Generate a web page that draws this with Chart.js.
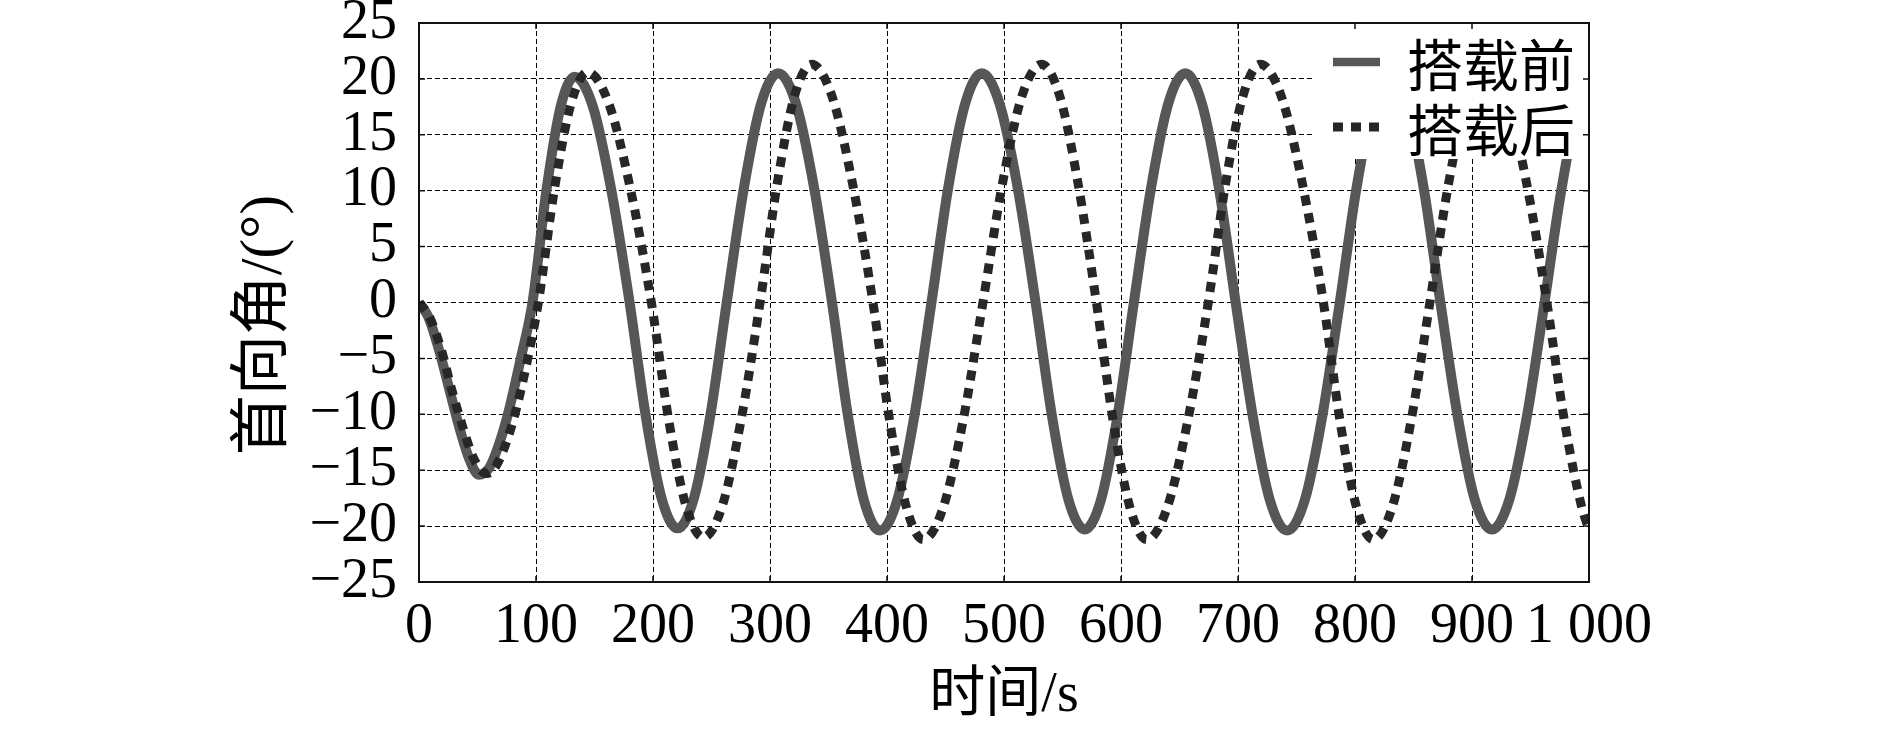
<!DOCTYPE html>
<html><head><meta charset="utf-8">
<script src="https://cdn.jsdelivr.net/npm/chart.js@4.4.0/dist/chart.umd.min.js"></script>
<style>html,body{margin:0;padding:0;background:#fff;overflow:hidden}canvas{display:block}</style>
</head><body>
<canvas id="c" width="1890" height="732"></canvas>
<script>
// ---- data ----
const seriesNames = ['搭载前', '搭载后'];
const timeBefore = [0, 8, 17, 26, 34, 43, 51, 60, 68, 76, 87, 97, 109, 121, 133,
  148.7, 164.3, 180, 193.7, 207.3, 221,
  235, 249, 263, 277.7, 292.3, 307, 322.3, 337.7, 353, 366.7, 380.3, 394,
  408.7, 423.3, 438, 452.3, 466.7, 481, 496.3, 511.7, 527, 541, 555, 569,
  583, 597, 611, 625.7, 640.3, 655, 669.3, 683.7, 698, 712.7, 727.3, 742,
  757, 772, 787, 801.3, 815.7, 830, 844.3, 858.7, 873, 887.7, 902.3, 917,
  932, 947, 962, 975, 988, 1000];
const angleBefore = [0, -1.3, -4.2, -7.8, -11, -14, -15.4, -14.8, -12.8, -10, -5, 0, 10.1, 17.5, 20.2,
  17.5, 10.1, 0, -10.1, -17.5, -20.2,
  -17.5, -10.1, 0, 10.25, 17.75, 20.5, 17.75, 10.25, 0, -10.2, -17.7, -20.4,
  -17.7, -10.2, 0, 10.25, 17.75, 20.5, 17.75, 10.25, 0, -10.15, -17.6, -20.3,
  -17.6, -10.15, 0, 10.25, 17.75, 20.5, 17.75, 10.25, 0, -10.2, -17.7, -20.4,
  -17.7, -10.2, 0, 10.25, 17.75, 20.5, 17.75, 10.25, 0, -10.15, -17.6, -20.3,
  -17.6, -10.15, 0, 9.2, 16.4, 19.9];
const timeAfter = [0, 9, 19, 28, 37, 47, 58, 66, 74, 82, 93, 102, 116, 130, 144,
  162.2, 180.4, 198.6, 213.4, 228.2, 243,
  259.2, 275.3, 291.5, 306.2, 320.9, 335.6, 353, 370.5, 388, 402.3, 416.7, 431,
  448, 465, 482, 498.7, 515.3, 532, 547.7, 563.3, 579, 593.3, 607.7, 622,
  639.5, 657, 674.6, 689.4, 704.2, 719, 737, 755, 773, 787.2, 801.4, 815.6,
  831.7, 847.9, 864, 880, 896, 912, 929.3, 946.7, 964, 979, 994, 1000];
const angleAfter = [0, -1.3, -4.2, -7.8, -11, -14, -15.3, -14.6, -12.7, -10, -5, 0, 10.3, 17.8, 20.6,
  17.8, 10.3, 0, -10.5, -18.2, -21,
  -18.2, -10.5, 0, 10.65, 18.45, 21.3, 18.45, 10.65, 0, -10.6, -18.35, -21.2,
  -18.35, -10.6, 0, 10.65, 18.45, 21.3, 18.45, 10.65, 0, -10.6, -18.35, -21.2,
  -18.35, -10.6, 0, 10.65, 18.45, 21.3, 18.45, 10.65, 0, -10.6, -18.35, -21.2,
  -18.35, -10.6, 0, 10.65, 18.45, 21.3, 18.45, 10.65, 0, -10.6, -18.4, -20.3];
const xTickValues = [0, 100, 200, 300, 400, 500, 600, 700, 800, 900, 1000];
const xTickLabels = ['0', '100', '200', '300', '400', '500', '600', '700', '800', '900', '1 000'];
const yTickValues = [-25, -20, -15, -10, -5, 0, 5, 10, 15, 20, 25];
const xTitle = '时间/s';
const yTitle = '首向角/(°)   ';

const FONT = "'Liberation Serif','Noto Sans CJK SC',serif";
const CJK = "'Noto Sans CJK SC','Liberation Serif',sans-serif";
Chart.defaults.font.family = FONT;
Chart.defaults.color = '#000';

const pts = (xs, ys) => xs.map((x, i) => ({x: x, y: ys[i]}));

const frameAndLegend = {
  id: 'frameAndLegend',
  afterDatasetsDraw(chart) {
    const {ctx, chartArea: a, scales} = chart;
    ctx.save();
    // legend box (inside plot, top right)
    const lx = a.right - 274, ly = a.top, lh = 136;
    ctx.fillStyle = '#fff';
    ctx.fillRect(lx, ly, a.right - lx, lh);
    const ds = chart.data.datasets;
    const rows = [a.top + 39, a.top + 104];
    ds.forEach((d, i) => {
      ctx.save();
      ctx.strokeStyle = d.borderColor;
      ctx.lineWidth = i === 0 ? 8.5 : 9;
      ctx.lineCap = 'butt';
      ctx.setLineDash(d.borderDash || []);
      ctx.beginPath();
      ctx.moveTo(lx + 18, rows[i]);
      ctx.lineTo(lx + 65, rows[i]);
      ctx.stroke();
      ctx.restore();
      ctx.fillStyle = '#000';
      ctx.font = '56px ' + CJK;
      ctx.textBaseline = 'middle';
      ctx.textAlign = 'left';
      ctx.fillText(d.label, lx + 92, rows[i] + 3);
    });
    // frame
    ctx.strokeStyle = '#111';
    ctx.lineWidth = 2;
    ctx.setLineDash([]);
    ctx.strokeRect(a.left, a.top, a.right - a.left, a.bottom - a.top);
    // inward tick marks
    ctx.lineWidth = 1.5;
    ctx.beginPath();
    xTickValues.forEach(v => {
      const px = scales.x.getPixelForValue(v);
      ctx.moveTo(px, a.top); ctx.lineTo(px, a.top + 6);
      ctx.moveTo(px, a.bottom); ctx.lineTo(px, a.bottom - 6);
    });
    yTickValues.forEach(v => {
      const py = scales.y.getPixelForValue(v);
      ctx.moveTo(a.left, py); ctx.lineTo(a.left + 6, py);
      ctx.moveTo(a.right, py); ctx.lineTo(a.right - 6, py);
    });
    ctx.stroke();
    ctx.restore();
  }
};

new Chart(document.getElementById('c'), {
  type: 'line',
  data: {
    datasets: [
      {label: seriesNames[0], data: pts(timeBefore, angleBefore), borderColor: '#575757', borderWidth: 10,
       pointRadius: 0, fill: false, cubicInterpolationMode: 'monotone', order: 1},
      {label: seriesNames[1], data: pts(timeAfter, angleAfter), borderColor: '#272727', borderWidth: 9,
       borderDash: [10, 8], borderCapStyle: 'butt', pointRadius: 0, fill: false,
       cubicInterpolationMode: 'monotone', order: 0}
    ]
  },
  options: {
    responsive: false,
    animation: false,
    devicePixelRatio: 1,
    layout: {padding: {left: 229, top: 23, right: 301, bottom: 0}},
    plugins: {legend: {display: false}, tooltip: {enabled: false}},
    scales: {
      x: {
        type: 'linear', min: 0, max: 1000,
        afterBuildTicks: s => { s.ticks = xTickValues.map(v => ({value: v})); },
        afterFit: s => { s.height = 150; s.paddingLeft = 0; s.paddingRight = 0; },
        ticks: {autoSkip: false, maxRotation: 0, padding: 12, color: '#000', font: {size: 56},
          callback: v => xTickLabels[xTickValues.indexOf(v)]},
        grid: {color: '#000', lineWidth: 1, drawTicks: false, tickLength: 0},
        border: {display: false, dash: [5, 3]},
        title: {display: true, text: xTitle, color: '#000', font: {size: 56}, padding: {top: 0, bottom: 2}}
      },
      y: {
        type: 'linear', min: -25, max: 25,
        afterBuildTicks: s => { s.ticks = yTickValues.map(v => ({value: v})); },
        afterFit: s => { s.width = 190; s.paddingTop = 0; s.paddingBottom = 0; },
        ticks: {autoSkip: false, padding: 22, color: '#000', font: {size: 56},
          callback: v => (v < 0 ? '\u2212' + Math.abs(v) : String(v))},
        grid: {color: '#000', lineWidth: 1, drawTicks: false, tickLength: 0},
        border: {display: false, dash: [5, 3]},
        title: {display: true, text: yTitle, color: '#000', font: {size: 60}, padding: {top: 0, bottom: 0}}
      }
    }
  },
  plugins: [frameAndLegend]
});
</script>
</body></html>
